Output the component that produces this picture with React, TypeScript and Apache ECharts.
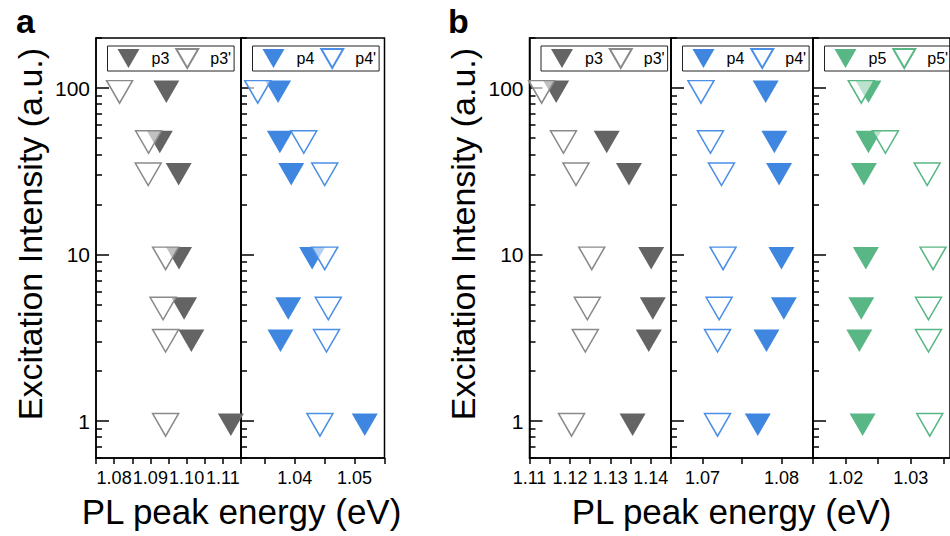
import React, { useEffect, useRef } from "react";
import * as echarts from "echarts";

// Excitation intensities (a.u.), shared by every series (top to bottom rows)
const intensity = [100, 50, 32, 10, 5, 3.2, 1];

// Panel a – PL peak energies (eV)
const aP3 = [1.0944, 1.0926, 1.0978, 1.0979, 1.0993, 1.1013, 1.1122];
const aP3p = [1.0815, 1.0895, 1.0894, 1.0942, 1.0935, 1.0942, 1.0942];
const aP4 = [1.0372, 1.0375, 1.0394, 1.0429, 1.0389, 1.0376, 1.0517];
const aP4p = [1.0338, 1.0415, 1.045, 1.045, 1.0456, 1.0453, 1.0442];

// Panel b – PL peak energies (eV)
const bP3 = [1.1166, 1.1291, 1.1346, 1.1401, 1.1405, 1.1395, 1.1355];
const bP3p = [1.113, 1.1184, 1.1215, 1.1254, 1.1243, 1.1238, 1.1204];
const bP4 = [1.078, 1.0791, 1.0797, 1.08, 1.0803, 1.0781, 1.077];
const bP4p = [1.0698, 1.071, 1.0724, 1.0726, 1.0721, 1.0719, 1.0719];
const bP5 = [1.0235, 1.0235, 1.0228, 1.0231, 1.0224, 1.0221, 1.0226];
const bP5p = [1.0224, 1.0261, 1.0325, 1.0334, 1.0327, 1.0327, 1.0329];

// X tick positions and tick labels
const aLeftTicks = [1.075, 1.08, 1.085, 1.09, 1.095, 1.1, 1.105, 1.11, 1.115];
const aLeftLabels = [1.08, 1.09, 1.1, 1.11];
const aRightTicks = [1.035, 1.04, 1.045, 1.05, 1.055];
const aRightLabels = [1.04, 1.05];
const bLeftTicks = [1.11, 1.115, 1.12, 1.125, 1.13, 1.135, 1.14, 1.145];
const bLeftLabels = [1.11, 1.12, 1.13, 1.14];
const bMidTicks = [1.07, 1.075, 1.08];
const bMidLabels = [1.07, 1.08];
const bRightTicks = [1.015, 1.02, 1.025, 1.03, 1.035];
const bRightLabels = [1.02, 1.03];

// Y ticks (log axis)
const yMajorTicks = [1, 10, 100];
const yMinorTicks = [0.6, 0.7, 0.8, 0.9, 2, 3, 4, 5, 6, 7, 8, 9, 20, 30, 40, 50, 60, 70, 80, 90, 200];

const FONT = "'Liberation Sans', Arial, Helvetica, sans-serif";
const GRAY = "#646464";
const GRAY_OPEN = "#8a8a8a";
const BLUE = "#3e86e0";
const BLUE_OPEN = "#4b8fe6";
const GREEN = "#58b784";
const GREEN_OPEN = "#58b784";

const TRI = "path://M0 0L26 0L13 22.5Z";

const GRID_TOP = 38;
const GRID_H = 420;

type Panel = {
  left: number;
  width: number;
  min: number;
  max: number;
  ticks: number[];
  labels: number[];
  showY: boolean;
  filled: { name: string; data: number[]; color: string };
  open: { name: string; data: number[]; color: string };
};

const panels: Panel[] = [
  {
    left: 96, width: 145, min: 1.075, max: 1.115, ticks: aLeftTicks, labels: aLeftLabels, showY: true,
    filled: { name: "p3", data: aP3, color: GRAY }, open: { name: "p3'", data: aP3p, color: GRAY_OPEN },
  },
  {
    left: 241, width: 143.5, min: 1.031, max: 1.055, ticks: aRightTicks, labels: aRightLabels, showY: false,
    filled: { name: "p4", data: aP4, color: BLUE }, open: { name: "p4'", data: aP4p, color: BLUE_OPEN },
  },
  {
    left: 529.5, width: 141.5, min: 1.11, max: 1.145, ticks: bLeftTicks, labels: bLeftLabels, showY: true,
    filled: { name: "p3", data: bP3, color: GRAY }, open: { name: "p3'", data: bP3p, color: GRAY_OPEN },
  },
  {
    left: 671, width: 142, min: 1.066, max: 1.084, ticks: bMidTicks, labels: bMidLabels, showY: false,
    filled: { name: "p4", data: bP4, color: BLUE }, open: { name: "p4'", data: bP4p, color: BLUE_OPEN },
  },
  {
    left: 813, width: 137, min: 1.015, max: 1.036, ticks: bRightTicks, labels: bRightLabels, showY: false,
    filled: { name: "p5", data: bP5, color: GREEN }, open: { name: "p5'", data: bP5p, color: GREEN_OPEN },
  },
];

function buildOption() {
  const axisLine = { show: true, onZero: false, lineStyle: { color: "#000", width: 1.5 } };
  const grid = panels.map((p) => ({
    left: p.left,
    top: GRID_TOP,
    width: p.width,
    height: GRID_H,
    show: true,
    borderColor: "#000",
    borderWidth: 1.5,
    backgroundColor: "transparent",
    containLabel: false,
  }));
  const xAxis = panels.map((p, i) => ({
    type: "value",
    gridIndex: i,
    min: p.min,
    max: p.max,
    axisLine,
    splitLine: { show: false },
    axisTick: { show: true, inside: false, length: 6, customValues: p.ticks, lineStyle: { color: "#000", width: 1.5 } },
    axisLabel: {
      customValues: p.labels,
      formatter: (v: number) => v.toFixed(2),
      fontSize: 18,
      color: "#000",
      margin: 11,
      fontFamily: FONT,
    },
  }));
  const yAxis: any[] = [];
  panels.forEach((p, i) => {
    yAxis.push({
      type: "log",
      logBase: 10,
      gridIndex: i,
      position: "left",
      min: 0.6,
      max: 200,
      axisLine,
      splitLine: { show: false },
      axisTick: { show: true, inside: true, length: 13, customValues: yMajorTicks, lineStyle: { color: "#000", width: 1.5 } },
      axisLabel: {
        show: p.showY,
        customValues: yMajorTicks,
        formatter: (v: number) => String(Math.round(v)),
        fontSize: 21,
        color: "#000",
        margin: 6,
        fontFamily: FONT,
      },
    });
    yAxis.push({
      type: "log",
      logBase: 10,
      gridIndex: i,
      position: "left",
      offset: 0,
      min: 0.6,
      max: 200,
      axisLine: { show: false },
      splitLine: { show: false },
      axisTick: { show: true, inside: true, length: 6, customValues: yMinorTicks, lineStyle: { color: "#000", width: 1.5 } },
      axisLabel: { show: false },
    });
  });

  const series: any[] = [];
  panels.forEach((p, i) => {
    series.push({
      type: "scatter",
      name: p.filled.name,
      xAxisIndex: i,
      yAxisIndex: 2 * i,
      symbol: TRI,
      symbolSize: [26, 22.5],
      symbolOffset: [0, 3.75],
      itemStyle: { color: p.filled.color, borderColor: p.filled.color, borderWidth: 0, opacity: 1 },
      data: intensity.map((y, k) => [p.filled.data[k], y]),
      z: 2,
    });
    series.push({
      type: "scatter",
      name: p.open.name,
      xAxisIndex: i,
      yAxisIndex: 2 * i,
      symbol: TRI,
      symbolSize: [26, 22.5],
      symbolOffset: [0, 3.75],
      itemStyle: { color: "rgba(255,255,255,0.6)", borderColor: p.open.color, borderWidth: 1.5, opacity: 1 },
      data: intensity.map((y, k) => [p.open.data[k], y]),
      z: 3,
    });
  });

  const legend = panels.map((p) => ({
    left: p.left + 11.5,
    top: 46,
    width: 160,
    orient: "horizontal",
    itemWidth: 22,
    itemHeight: 19,
    itemGap: 6,
    padding: [2, 3, 2, 10],
    borderColor: "#222",
    borderWidth: 1,
    selectedMode: false,
    textStyle: { fontSize: 16, color: "#000", fontFamily: FONT, padding: [0, 0, 0, 7] },
    data: [p.filled.name, p.open.name],
  }));

  const graphic = [
    { type: "text", x: 16, y: 21, style: { text: "a", font: `bold 34px ${FONT}`, fill: "#000", textAlign: "left", textVerticalAlign: "middle" } },
    { type: "text", x: 448, y: 21, style: { text: "b", font: `bold 34px ${FONT}`, fill: "#000", textAlign: "left", textVerticalAlign: "middle" } },
    {
      type: "text", x: 30, y: 234, rotation: Math.PI / 2,
      style: { text: "Excitation Intensity (a.u.)", font: `34px ${FONT}`, fill: "#000", textAlign: "center", textVerticalAlign: "middle" },
    },
    {
      type: "text", x: 463, y: 234, rotation: Math.PI / 2,
      style: { text: "Excitation Intensity (a.u.)", font: `34px ${FONT}`, fill: "#000", textAlign: "center", textVerticalAlign: "middle" },
    },
    {
      type: "text", x: 241.5, y: 511,
      style: { text: "PL peak energy (eV)", font: `35px ${FONT}`, fill: "#000", textAlign: "center", textVerticalAlign: "middle" },
    },
    {
      type: "text", x: 731.5, y: 511,
      style: { text: "PL peak energy (eV)", font: `35px ${FONT}`, fill: "#000", textAlign: "center", textVerticalAlign: "middle" },
    },
  ];

  return {
    animation: false,
    backgroundColor: "#fff",
    textStyle: { fontFamily: FONT },
    grid,
    xAxis,
    yAxis,
    series,
    legend,
    graphic,
  };
}

export default function App() {
  const ref = useRef<HTMLDivElement>(null);
  useEffect(() => {
    if (!ref.current) return;
    const chart = echarts.init(ref.current, undefined, { renderer: "svg" });
    chart.setOption(buildOption() as any);
    return () => chart.dispose();
  }, []);
  return (
    <div
      ref={ref}
      style={{ position: "fixed", left: 0, top: 0, width: 950, height: 536, background: "#fff" }}
    />
  );
}
